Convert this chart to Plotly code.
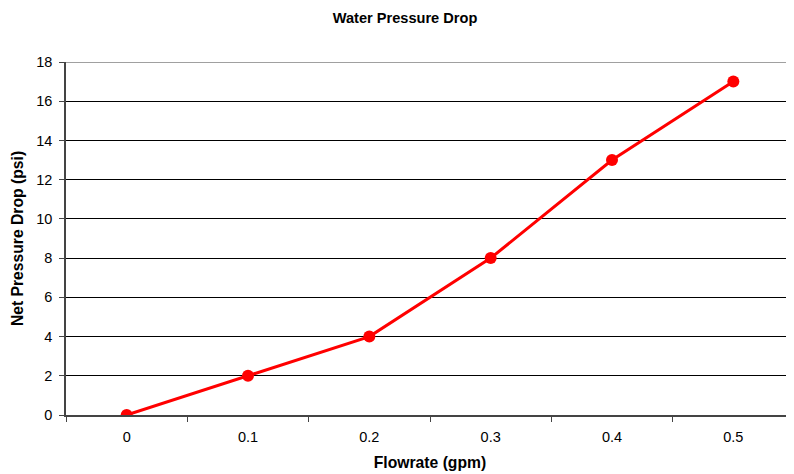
import plotly.graph_objects as go

flowrate = ["0", "0.1", "0.2", "0.3", "0.4", "0.5"]
pressure_drop = [0, 2, 4, 8, 13, 17]
y_ticks = [0, 2, 4, 6, 8, 10, 12, 14, 16, 18]

fig = go.Figure()
fig.add_trace(go.Scatter(
    x=flowrate, y=pressure_drop, mode="lines+markers",
    line=dict(color="#ff0000", width=3),
    marker=dict(color="#ff0000", size=12),
    showlegend=False,
))

font = "Liberation Sans, Arial, sans-serif"
fig.update_layout(
    width=794, height=474,
    margin=dict(l=54, r=8, t=54, b=67),
    paper_bgcolor="white", plot_bgcolor="white",
    font=dict(family=font, size=14.5, color="black"),
    title=dict(text="<b>Water Pressure Drop</b>", x=0.5, xanchor="center",
               y=1 - 10 / 474, yanchor="middle", font=dict(size=14.6)),
)
fig.update_xaxes(
    type="category", range=[-0.5, 5.5], tickson="boundaries",
    ticks="outside", ticklen=5, tickcolor="#444", tickwidth=1,
    showline=True, linecolor="#444", linewidth=1.5, showgrid=False,
    tickfont=dict(size=14.5), ticklabelstandoff=8,
    title=dict(text="<b>Flowrate (gpm)</b>", font=dict(size=15.7), standoff=13),
)
fig.update_yaxes(
    range=[0, 18], tickvals=y_ticks, ticks="outside", ticklen=5,
    tickcolor="#444", showline=True, linecolor="#444", linewidth=1.5,
    showgrid=True, gridcolor="black", gridwidth=1, zeroline=False,
    tickfont=dict(size=14.5), ticklabelstandoff=4,
    title=dict(text="<b>Net Pressure Drop (psi)</b>", font=dict(size=15.7), standoff=9),
)
fig.add_shape(type="line", xref="paper", yref="y", x0=0, x1=1, y0=18, y1=18,
              line=dict(color="#808080", width=1.5))

fig.write_html("out.html")
